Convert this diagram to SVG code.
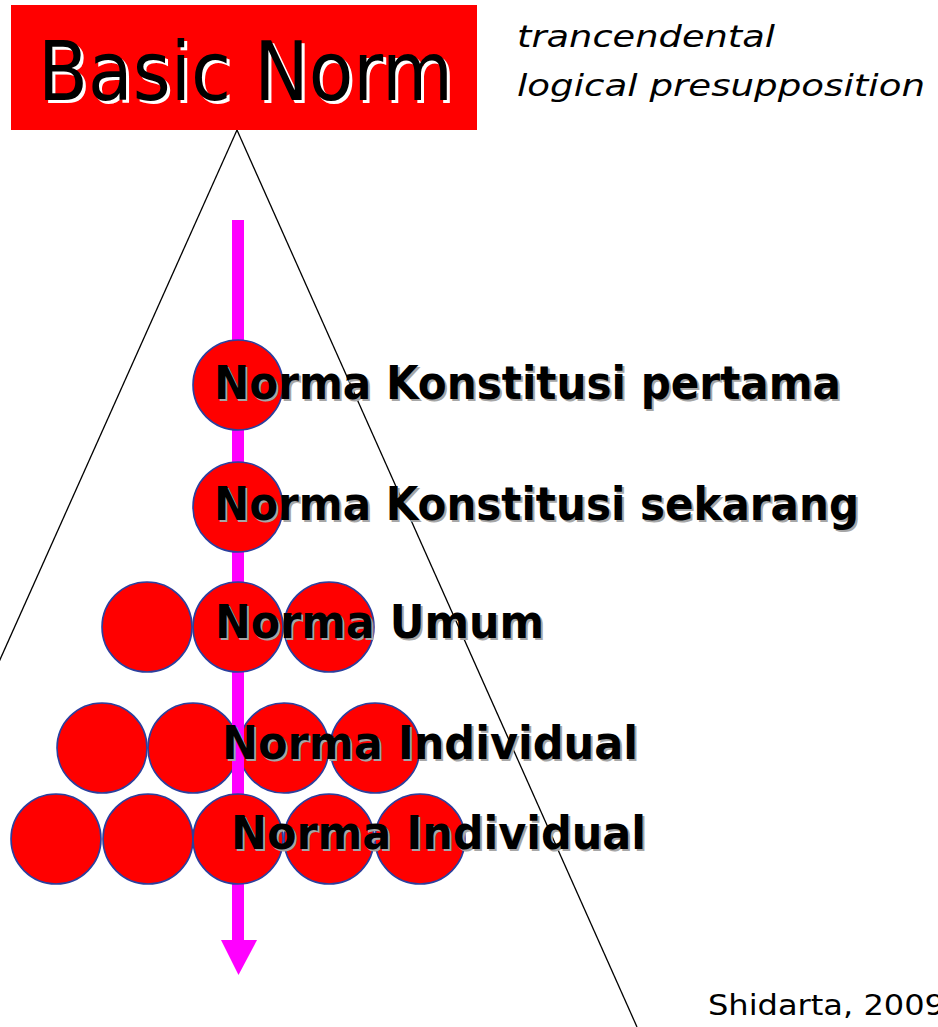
<svg xmlns="http://www.w3.org/2000/svg" width="938" height="1027" viewBox="0 0 938 1027">
<style>
.c{fill:#ff0000;stroke:#2b3f9e;stroke-width:1.6}
.lbl{font-family:"DejaVu Sans","Liberation Sans",sans-serif;font-weight:bold;font-size:47px}
.sh{fill:#a6a6a6}
.fg{fill:#000}
.bn{font-family:"DejaVu Sans","Liberation Sans",sans-serif;font-size:82px}
.it{font-family:"DejaVu Sans","Liberation Sans",sans-serif;font-style:italic;font-size:30px;fill:#000}
.tri{stroke:#000;stroke-width:1.3;fill:none}
</style>
<rect width="938" height="1027" fill="#fff"/>
<g id="connectors">
<line class="tri" x1="237" y1="130" x2="-10" y2="682"/>
<line class="tri" x1="237" y1="130" x2="637" y2="1027"/>
</g>
<g id="row4-circles">
<circle class="c" cx="102" cy="748" r="45"/>
<circle class="c" cx="193" cy="748" r="45"/>
<circle class="c" cx="284" cy="748" r="45"/>
<circle class="c" cx="375" cy="748" r="45"/>
</g>
<g id="arrow">
<rect x="232" y="220" width="12" height="722" fill="#ff00ff"/>
<polygon points="221,940 257,940 238.5,975" fill="#ff00ff"/>
</g>
<g id="node-basic-norm">
<rect x="11" y="5" width="466" height="125" fill="#ff0000"/>
<text class="bn" x="41" y="103" fill="#fff" textLength="415" lengthAdjust="spacingAndGlyphs">Basic Norm</text>
<text class="bn" x="38" y="100" fill="#000" textLength="415" lengthAdjust="spacingAndGlyphs">Basic Norm</text>
</g>
<g id="note">
<text class="it" x="517" y="47" textLength="258" lengthAdjust="spacingAndGlyphs">trancendental</text>
<text class="it" x="517" y="96" textLength="408" lengthAdjust="spacingAndGlyphs">logical presupposition</text>
</g>
<g id="node-konstitusi-pertama">
<circle class="c" cx="238" cy="385" r="45"/>
<text class="lbl sh" x="216" y="401" textLength="627" lengthAdjust="spacingAndGlyphs">Norma Konstitusi pertama</text>
<text class="lbl fg" x="214" y="399" textLength="627" lengthAdjust="spacingAndGlyphs">Norma Konstitusi pertama</text>
</g>
<g id="node-konstitusi-sekarang">
<circle class="c" cx="238" cy="507" r="45"/>
<text class="lbl sh" x="216" y="522" textLength="645" lengthAdjust="spacingAndGlyphs">Norma Konstitusi sekarang</text>
<text class="lbl fg" x="214" y="520" textLength="645" lengthAdjust="spacingAndGlyphs">Norma Konstitusi sekarang</text>
</g>
<g id="node-umum">
<circle class="c" cx="147" cy="627" r="45"/>
<circle class="c" cx="238" cy="627" r="45"/>
<circle class="c" cx="329" cy="627" r="45"/>
<text class="lbl sh" x="217" y="640" textLength="329" lengthAdjust="spacingAndGlyphs">Norma Umum</text>
<text class="lbl fg" x="215" y="638" textLength="329" lengthAdjust="spacingAndGlyphs">Norma Umum</text>
</g>
<g id="node-individual-1">
<text class="lbl sh" x="224" y="761" textLength="416" lengthAdjust="spacingAndGlyphs">Norma Individual</text>
<text class="lbl fg" x="222" y="759" textLength="416" lengthAdjust="spacingAndGlyphs">Norma Individual</text>
</g>
<g id="node-individual-2">
<circle class="c" cx="56" cy="839" r="45"/>
<circle class="c" cx="148" cy="839" r="45"/>
<circle class="c" cx="238" cy="839" r="45"/>
<circle class="c" cx="329" cy="839" r="45"/>
<circle class="c" cx="420" cy="839" r="45"/>
<text class="lbl sh" x="233" y="851" textLength="415" lengthAdjust="spacingAndGlyphs">Norma Individual</text>
<text class="lbl fg" x="231" y="849" textLength="415" lengthAdjust="spacingAndGlyphs">Norma Individual</text>
</g>
<g id="source">
<text x="708" y="1015" font-family="DejaVu Sans,Liberation Sans,sans-serif" font-size="28" fill="#000" textLength="237" lengthAdjust="spacingAndGlyphs">Shidarta, 2009</text>
</g>
</svg>
